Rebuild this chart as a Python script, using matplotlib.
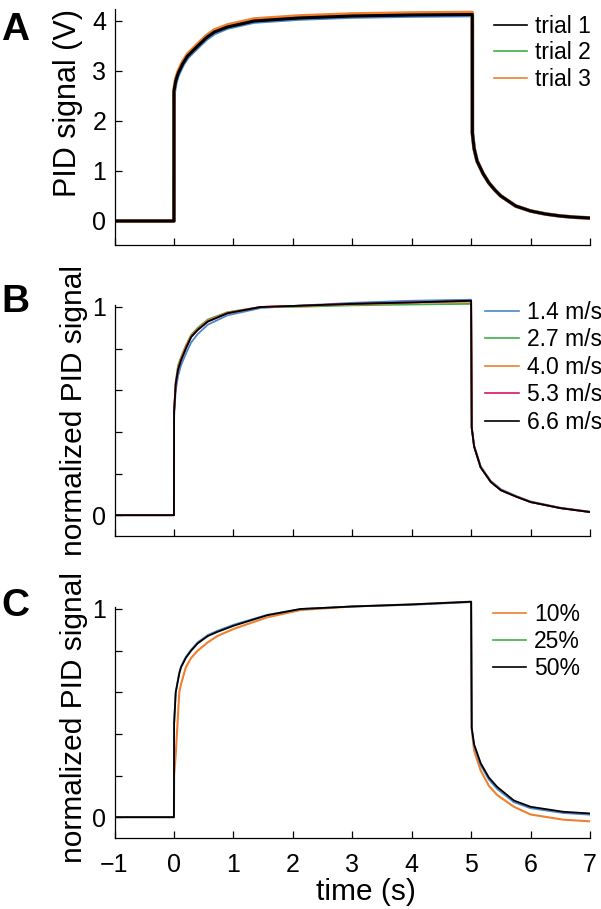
import matplotlib
matplotlib.use("Agg")
import matplotlib.pyplot as plt
from matplotlib.lines import Line2D

plt.rcParams['font.family'] = ['Liberation Sans', 'DejaVu Sans']

# panel A: raw PID signal (V), three trials
t_a = [-1, 0, 0.001, 0.03, 0.07, 0.15, 0.23, 0.4, 0.55, 0.68, 0.9, 1.35, 2.1, 3, 4, 5.02,
       5.021, 5.05, 5.1, 5.2, 5.3, 5.4, 5.5, 5.75, 6, 6.25, 6.5, 6.75, 7]
trial_1 = [0, 0, 2.6, 2.8, 2.95, 3.15, 3.3, 3.5, 3.67, 3.78, 3.88, 4.0, 4.06, 4.1, 4.12, 4.13,
           1.76, 1.45, 1.2, 0.95, 0.76, 0.62, 0.5, 0.3, 0.2, 0.14, 0.1, 0.075, 0.06]
trial_2 = [0, 0, 2.55, 2.76, 2.92, 3.12, 3.27, 3.47, 3.64, 3.75, 3.86, 3.98, 4.04, 4.08, 4.1, 4.11,
           1.76, 1.45, 1.2, 0.95, 0.76, 0.62, 0.5, 0.3, 0.2, 0.14, 0.1, 0.075, 0.06]
trial_3 = [0, 0, 2.62, 2.84, 2.99, 3.19, 3.34, 3.54, 3.71, 3.82, 3.92, 4.04, 4.1, 4.14, 4.16, 4.17,
           1.76, 1.45, 1.2, 0.95, 0.76, 0.62, 0.5, 0.3, 0.2, 0.14, 0.1, 0.075, 0.06]

# panel B: normalized signal at five wind speeds
t_b = [-1, 0, 0.003, 0.03, 0.07, 0.12, 0.2, 0.29, 0.4, 0.57, 0.9, 1.46, 2, 3, 4, 5,
       5.01, 5.05, 5.16, 5.33, 5.5, 5.75, 6, 6.5, 7]
speed_labels = ["1.4 m/s", "2.7 m/s", "4.0 m/s", "5.3 m/s", "6.6 m/s"]
speed_14 = [0, 0, 0.48, 0.6, 0.67, 0.72, 0.775, 0.83, 0.87, 0.915, 0.96, 0.995, 1.005, 1.02, 1.03, 1.035,
            0.425, 0.335, 0.235, 0.165, 0.125, 0.093, 0.066, 0.036, 0.017]
speed_27 = [0, 0, 0.5, 0.64, 0.72, 0.76, 0.815, 0.866, 0.9, 0.94, 0.975, 1.0, 1.0, 1.008, 1.012, 1.015,
            0.42, 0.33, 0.23, 0.16, 0.12, 0.09, 0.063, 0.034, 0.015]
speed_40 = [0, 0, 0.5, 0.64, 0.71, 0.755, 0.81, 0.862, 0.895, 0.935, 0.973, 1.0, 1.004, 1.012, 1.02, 1.025,
            0.42, 0.33, 0.23, 0.16, 0.12, 0.09, 0.063, 0.034, 0.015]
speed_53 = [0, 0, 0.5, 0.63, 0.7, 0.745, 0.8, 0.856, 0.89, 0.93, 0.97, 1.0, 1.005, 1.015, 1.022, 1.03,
            0.42, 0.33, 0.23, 0.16, 0.12, 0.09, 0.063, 0.034, 0.015]
speed_66 = [0, 0, 0.5, 0.63, 0.7, 0.745, 0.8, 0.856, 0.89, 0.93, 0.97, 1.0, 1.005, 1.015, 1.022, 1.03,
            0.42, 0.33, 0.23, 0.16, 0.12, 0.09, 0.063, 0.034, 0.015]

# panel C: normalized signal at three concentrations
t_c = [-1, 0, 0.003, 0.03, 0.09, 0.12, 0.2, 0.29, 0.4, 0.57, 0.73, 1.01, 1.57, 2.13, 3, 4, 5,
       5.01, 5.05, 5.16, 5.3, 5.44, 5.72, 6, 6.55, 7]
conc_10 = [0, 0, 0.2, 0.3, 0.6, 0.64, 0.72, 0.765, 0.8, 0.84, 0.87, 0.905, 0.96, 0.995, 1.012, 1.022, 1.035,
           0.42, 0.32, 0.225, 0.15, 0.106, 0.05, 0.013, -0.012, -0.02]
conc_25 = [0, 0, 0.45, 0.6, 0.695, 0.725, 0.77, 0.805, 0.84, 0.875, 0.895, 0.925, 0.972, 1.0, 1.012, 1.02, 1.033,
           0.43, 0.345, 0.25, 0.18, 0.135, 0.072, 0.043, 0.02, 0.012]
conc_50 = [0, 0, 0.45, 0.6, 0.69, 0.72, 0.765, 0.8, 0.835, 0.87, 0.89, 0.92, 0.97, 1.0, 1.012, 1.022, 1.035,
           0.43, 0.35, 0.26, 0.19, 0.145, 0.08, 0.05, 0.026, 0.018]

x_ticks = [-1, 0, 1, 2, 3, 4, 5, 6, 7]

blue = "#4a86c8"
green = "#3fae49"
orange = "#f07f2e"
magenta = "#d9136b"

W, H = 601, 909
fig = plt.figure(figsize=(W / 100, H / 100), dpi=100)


def make_axes(top_px, bottom_px):
    left, right = 114.5, 590
    return fig.add_axes([left / W, 1 - bottom_px / H, (right - left) / W, (bottom_px - top_px) / H])


def style(ax, ylim, spine_top):
    ax.set_xlim(-1, 7)
    ax.set_ylim(*ylim)
    ax.spines['top'].set_visible(False)
    ax.spines['right'].set_visible(False)
    ax.spines['left'].set_bounds(ylim[0], spine_top)
    ax.spines['bottom'].set_bounds(-1, 7)
    for s in ('left', 'bottom'):
        ax.spines[s].set_linewidth(0.9)
    ax.set_xticks(x_ticks)
    ax.tick_params(direction='in', length=5, width=0.9, labelsize=18)
    ax.tick_params(axis='y', pad=6)
    ax.tick_params(axis='x', pad=11)


def add_legend(ax, colors, labels, anchor, spacing=0.15):
    handles = [Line2D([0], [0], color=c, lw=1.2) for c in colors]
    ax.legend(handles, labels, loc='upper left', bbox_to_anchor=anchor, frameon=False,
              fontsize=16.5, handlelength=1.45, handletextpad=0.35, labelspacing=spacing,
              borderaxespad=0, borderpad=0)


# ---- A ----
ax_a = make_axes(9, 245)
ax_a.plot(t_a, trial_2, color=blue, lw=2.6)
ax_a.plot(t_a, trial_3, color=orange, lw=2.6)
ax_a.plot(t_a, trial_1, color="black", lw=2.2)
style(ax_a, (-0.48, 4.24), 4.24)
ax_a.set_yticks([0, 1, 2, 3, 4])
ax_a.set_xticklabels([])
ax_a.set_ylabel("PID signal (V)", fontsize=22)
ax_a.yaxis.set_label_coords(-0.066, 0.60)
add_legend(ax_a, ["black", green, orange], ["trial 1", "trial 2", "trial 3"], (0.798, 0.975))

# ---- B ----
ax_b = make_axes(294.5, 536)
for vals, c in zip([speed_14, speed_27, speed_40, speed_53, speed_66],
                   [blue, green, orange, magenta, "black"]):
    ax_b.plot(t_b, vals, color=c, lw=1.3)
style(ax_b, (-0.1, 1.06), 1.01)
ax_b.set_yticks([0, 0.2, 0.4, 0.6, 0.8, 1.0])
ax_b.set_yticklabels(["0", "", "", "", "", "1"])
ax_b.set_xticklabels([])
ax_b.set_ylabel("normalized PID signal", fontsize=21.5)
ax_b.yaxis.set_label_coords(-0.056, 0.52)
add_legend(ax_b, [blue, green, orange, magenta, "black"], speed_labels, (0.78, 0.975), spacing=0.2)

# ---- C ----
ax_c = make_axes(596.5, 838)
ax_c.plot(t_c, conc_10, color=orange, lw=1.5)
ax_c.plot(t_c, conc_25, color=blue, lw=1.3)
ax_c.plot(t_c, conc_50, color="black", lw=1.3)
style(ax_c, (-0.1, 1.06), 1.01)
ax_c.set_yticks([0, 0.2, 0.4, 0.6, 0.8, 1.0])
ax_c.set_yticklabels(["0", "", "", "", "", "1"])
ax_c.set_xticklabels(["\u22121", "0", "1", "2", "3", "4", "5", "6", "7"])
ax_c.set_ylabel("normalized PID signal", fontsize=21.5)
ax_c.yaxis.set_label_coords(-0.056, 0.50)
ax_c.set_xlabel("time (s)", fontsize=21.5)
ax_c.xaxis.set_label_coords(0.529, -0.165)
add_legend(ax_c, [orange, green, "black"], ["10%", "25%", "50%"], (0.796, 0.975), spacing=0.18)

# panel letters
for letter, y in [("A", 40), ("B", 312), ("C", 616)]:
    fig.text(1 / W, 1 - y / H, letter, fontsize=28, fontweight='bold', ha='left', va='baseline')

fig.savefig("out.png", dpi=100)
